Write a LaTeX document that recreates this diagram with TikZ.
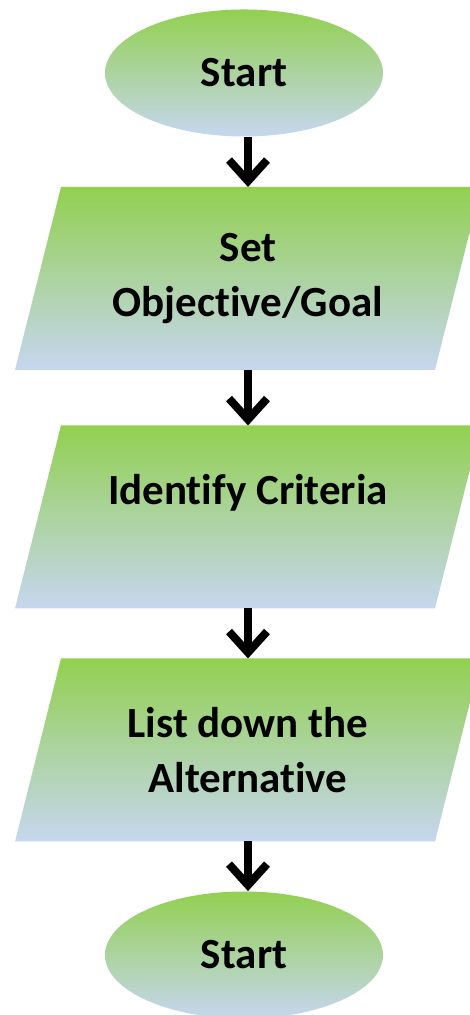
\documentclass[tikz,border=0pt]{standalone}
\usepackage{fontspec}
\setmainfont{Carlito}[Ligatures=NoCommon]
\usetikzlibrary{arrows.meta,shapes.geometric}

\definecolor{topgreen}{RGB}{146,208,80}
\definecolor{botblue}{RGB}{198,214,240}

\tikzset{
  fill grad/.style={top color=topgreen,bottom color=botblue},
  txt/.style={font=\fontsize{21.5}{27.5}\selectfont\bfseries,align=center},
  startend/.style={fill grad,txt,ellipse,minimum width=139pt,minimum height=63.5pt},
  flow/.style={line width=4pt,-{Straight Barb[length=10.5pt,width=19pt]}}
}

\begin{document}
\begin{tikzpicture}[x=0.5pt,y=0.5pt]
\useasboundingbox (0,0) rectangle (470,1015);

% slanted boxes, drawn as paths
\foreach \y/\n in {736.5/1,498/2,265/3}{
  \shade[fill grad] (15,\y-91.5) -- (435,\y-91.5) -- (481,\y+91.5) -- (61,\y+91.5) -- cycle;
  \coordinate (P\n n) at (248,\y+91.5);
  \coordinate (P\n s) at (248,\y-91.5);
}

\node[startend] (S1) at (244,942) {Start};
\node[txt] (P1) at (248,736.5) {Set\\Objective/Goal};
\node[txt] (P2) at (248,498) {Identify Criteria\\\mbox{}};
\node[txt] (P3) at (248,265) {List down the\\Alternative};
\node[startend] (S2) at (244,60) {Start};

\draw[flow] (P1n |- S1.south) -- (P1n);
\draw[flow] (P1s) -- (P2n);
\draw[flow] (P2s) -- (P3n);
\draw[flow] (P3s) -- (P3s |- S2.north);

\end{tikzpicture}
\end{document}
